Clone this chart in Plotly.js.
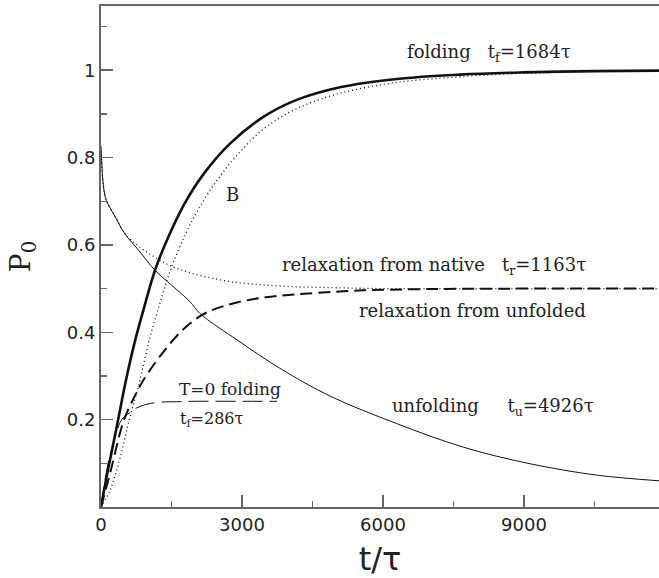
<!DOCTYPE html>
<html>
<head>
<meta charset="utf-8">
<script src="https://cdn.plot.ly/plotly-3.0.1.min.js"></script>
<style>
  html, body { margin: 0; padding: 0; background: #fff; }
  #chart { width: 659px; height: 578px; }
</style>
</head>
<body>
<div id="chart"></div>
<script>
// ---- data (t in units of tau, P0) ----
const foldT = [0, 130, 262, 383, 511, 700, 900, 1149, 1400, 1780, 2200, 2745, 3454, 4164, 5085, 6291, 7638, 9000, 10500, 11872];
const foldP = [0, 0.075, 0.145, 0.21, 0.28, 0.37, 0.45, 0.542, 0.61, 0.695, 0.765, 0.832, 0.893, 0.932, 0.961, 0.980, 0.990, 0.995, 0.998, 0.999];

const bT = [0, 191, 400, 602, 794, 1043, 1291, 1504, 1800, 2064, 2450, 2851, 3454, 4164, 5085, 6291, 7638, 9000, 10500, 11872];
const bP = [0, 0.038, 0.11, 0.2, 0.275, 0.389, 0.48, 0.55, 0.625, 0.68, 0.745, 0.80, 0.865, 0.912, 0.947, 0.972, 0.985, 0.993, 0.997, 0.999];

const fromUnfT = [0, 200, 475, 700, 900, 1291, 1752, 2206, 2809, 3500, 4164, 5000, 5574, 7000, 9000, 11872];
const fromUnfP = [0, 0.08, 0.195, 0.25, 0.29, 0.35, 0.407, 0.443, 0.466, 0.48, 0.487, 0.493, 0.496, 0.499, 0.5, 0.5];

const unfoldT = [0, 15, 30, 64, 113, 300, 504, 800, 1149, 1500, 1894, 2106, 2915, 3800, 4872, 6291, 7709, 9128, 10547, 11872];
const unfoldP = [0.825, 0.79, 0.76, 0.725, 0.702, 0.665, 0.626, 0.588, 0.542, 0.508, 0.47, 0.443, 0.381, 0.318, 0.254, 0.191, 0.137, 0.099, 0.073, 0.060];

const nativeT = [0, 15, 30, 64, 113, 300, 504, 800, 1100, 1400, 1700, 2064, 2450, 2745, 3057, 3500, 4164, 5000, 6000, 8000, 11872];
const nativeP = [0.825, 0.79, 0.76, 0.725, 0.702, 0.665, 0.626, 0.597, 0.575, 0.556, 0.543, 0.531, 0.522, 0.516, 0.512, 0.508, 0.504, 0.502, 0.5, 0.5, 0.5];

const t0T = [0, 150, 300, 440, 600, 760, 970, 1255, 1600, 2000, 3000, 3745];
const t0P = [0, 0.1, 0.16, 0.2, 0.215, 0.227, 0.235, 0.24, 0.241, 0.242, 0.242, 0.242];

const xTickVals = [0, 3000, 6000, 9000];
const xTickText = ['0', '3000', '6000', '9000'];
const yTickVals = [0.2, 0.4, 0.6, 0.8, 1];
const yTickText = ['0.2', '0.4', '0.6', '0.8', '1'];

// ---- drawing ----
const ink = '#111';
const serif = 'DejaVu Serif, serif';
const sans = 'DejaVu Sans, sans-serif';

function tr(x, y, width, dash) {
  return { x: x, y: y, mode: 'lines', hoverinfo: 'skip',
    line: { color: ink, width: width, dash: dash, shape: 'spline', smoothing: 1 } };
}

const traces = [
  tr(unfoldT, unfoldP, 1, 'solid'),
  tr(nativeT, nativeP, 1.3, '1px,3px'),
  tr(bT, bP, 1.3, '1px,3px'),
  tr(fromUnfT, fromUnfP, 2, '12px,6px'),
  tr(t0T, t0P, 1, '20px,7px'),
  tr(foldT, foldP, 2.6, 'solid')
];

const annFont = { family: serif, size: 18, color: '#222' };
function ann(text, x, y, anchor, size) {
  return { text: text, x: x, y: y, xref: 'x', yref: 'y', showarrow: false,
    xanchor: anchor || 'left', yanchor: 'middle',
    font: { family: serif, size: size || 18, color: '#222' } };
}
const nb = '\u00a0';
const annotations = [
  ann('folding' + nb + nb + nb + 't<sub>f</sub>=1684τ', 6469, 1.04),
  ann('B', 2788, 0.716, 'center'),
  ann('relaxation from native' + nb + nb + nb + 't<sub>r</sub>=1163τ', 3809, 0.552),
  ann('relaxation from unfolded', 5448, 0.449),
  ann('unfolding' + nb + nb + nb + nb + nb + 't<sub>u</sub>=4926τ', 6150, 0.229),
  ann('T=0 folding', 1617, 0.27, 'left', 17),
  ann('t<sub>f</sub>=286τ', 1639, 0.201, 'left', 16)
];

const layout = {
  width: 659, height: 578,
  margin: { l: 101, r: 0, t: 6, b: 71, pad: 0 },
  paper_bgcolor: '#fff', plot_bgcolor: '#fff',
  showlegend: false,
  xaxis: {
    range: [0, 11872], showgrid: false, zeroline: false,
    showline: true, linecolor: '#666', linewidth: 2, mirror: true,
    ticks: 'inside', ticklen: 12, tickwidth: 1.5, tickcolor: '#666',
    tickvals: xTickVals, ticktext: xTickText,
    tickfont: { family: sans, size: 18, color: '#222' },
    minor: { tickvals: [1500, 4500, 7500, 10500], ticks: 'inside', ticklen: 6, tickwidth: 1.5, tickcolor: '#666', showgrid: false },
    title: { text: 't/τ', font: { family: sans, size: 32, color: '#222' }, standoff: 14 }
  },
  yaxis: {
    range: [0, 1.147], showgrid: false, zeroline: false,
    showline: true, linecolor: '#666', linewidth: 2,
    ticks: 'inside', ticklen: 12, tickwidth: 1.5, tickcolor: '#666',
    tickvals: yTickVals, ticktext: yTickText,
    tickfont: { family: sans, size: 18, color: '#222' },
    minor: { tickvals: [0.1, 0.3, 0.5, 0.7, 0.9, 1.1], ticks: 'inside', ticklen: 6, tickwidth: 1.5, tickcolor: '#666', showgrid: false },
    title: { text: 'P<sub>0</sub>', font: { family: serif, size: 28, color: '#222' }, standoff: 28 }
  },
  annotations: annotations
};

Plotly.newPlot('chart', traces, layout, { staticPlot: true, displayModeBar: false });
</script>
</body>
</html>
